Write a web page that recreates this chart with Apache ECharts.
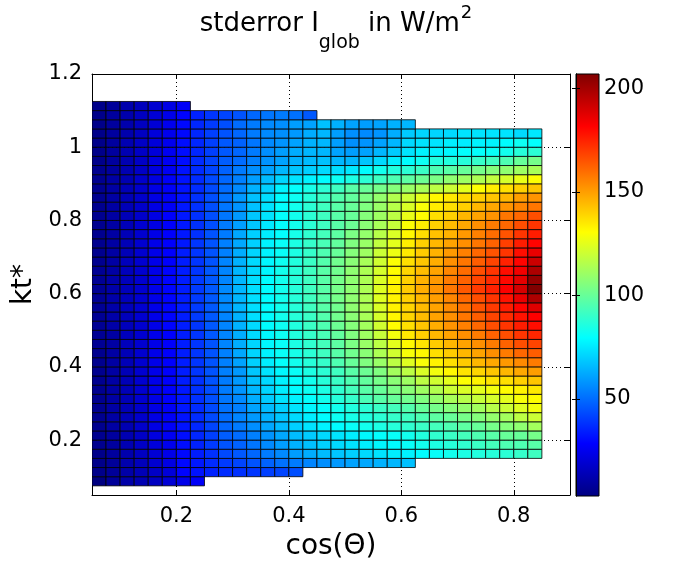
<!DOCTYPE html>
<html>
<head>
<meta charset="utf-8">
<script src="https://cdn.jsdelivr.net/npm/echarts@6/dist/echarts.min.js"></script>
<style>html,body{margin:0;padding:0;background:#fff}#c{width:675px;height:566px}</style>
</head>
<body>
<div id="c"></div>
<script>
// cell centres along x (cos(Theta)) and y (kt*)
const cosTheta = [0.0625,0.0875,0.1125,0.1375,0.1625,0.1875,0.2125,0.2375,0.2625,0.2875,0.3125,0.3375,0.3625,0.3875,0.4125,0.4375,0.4625,0.4875,0.5125,0.5375,0.5625,0.5875,0.6125,0.6375,0.6625,0.6875,0.7125,0.7375,0.7625,0.7875,0.8125,0.8375];
const ktCenters = [0.0875,0.1125,0.1375,0.1625,0.1875,0.2125,0.2375,0.2625,0.2875,0.3125,0.3375,0.3625,0.3875,0.4125,0.4375,0.4625,0.4875,0.5125,0.5375,0.5625,0.5875,0.6125,0.6375,0.6625,0.6875,0.7125,0.7375,0.7625,0.7875,0.8125,0.8375,0.8625,0.8875,0.9125,0.9375,0.9625,0.9875,1.0125,1.0375,1.0625,1.0875,1.1125];

// stderror values, one array per kt* row (r0 = lowest row); entries follow cosTheta, row ends where data ends
const r0  = [3,8,11,13,16,20,24,27];
const r1  = [5,8,11,14,17,21,29,32,35,37,38,39,41,42,44];
const r2  = [5,8,12,15,19,23,30,33,37,40,42,45,48,51,53,55,57,59,61,62,64,65,67];
const r3  = [5,9,12,16,20,24,30,34,38,43,46,49,53,56,60,63,66,68,70,72,74,76,77,79,81,83,85,86,87,88,90,92];
const r4  = [6,9,13,17,21,25,31,35,40,45,48,52,56,60,64,67,70,72,74,76,78,79,81,83,85,87,89,91,93,95,95,97];
const r5  = [6,9,13,17,22,26,31,36,41,47,50,54,58,62,66,69,72,74,76,78,80,81,83,86,89,91,93,95,97,100,100,103];
const r6  = [6,10,13,18,23,27,32,36,42,49,53,57,62,66,70,74,77,79,81,83,85,87,89,91,93,95,98,100,103,106,108,112];
const r7  = [6,10,14,18,23,27,32,37,43,50,55,59,64,68,72,76,79,82,84,86,88,90,92,95,98,100,103,106,109,112,117,120];
const r8  = [6,10,14,18,23,27,33,37,43,51,54,61,66,70,74,78,80,83,86,88,91,93,96,100,103,106,109,112,116,120,124,128];
const r9  = [6,10,14,19,23,28,33,38,44,52,56,63,69,74,77,80,83,87,90,94,97,100,102,105,109,113,116,119,122,125,129,131];
const r10 = [6,10,14,19,24,28,33,38,44,53,58,65,71,76,79,82,85,89,93,97,100,104,107,111,115,120,123,125,128,131,133,135];
const r11 = [6,10,14,19,24,28,34,38,45,53,59,67,72,77,80,83,87,91,95,99,103,107,111,117,121,125,130,133,136,137,140,142];
const r12 = [6,10,14,19,24,28,34,39,45,54,59,68,74,78,81,85,88,92,97,101,105,112,117,123,128,132,136,139,142,145,148,150];
const r13 = [6,10,14,19,24,28,34,39,45,54,61,70,76,80,83,87,90,95,100,105,110,117,124,129,133,137,141,145,148,151,154,157];
const r14 = [6,10,14,19,24,28,34,39,45,54,62,71,77,81,84,88,92,97,102,107,114,121,129,132,137,141,145,149,153,157,161,163];
const r15 = [7,10,15,19,24,28,34,39,45,55,63,71,78,81,85,89,93,98,104,110,117,125,132,136,141,145,149,153,157,162,166,168];
const r16 = [7,10,15,19,24,28,34,39,46,55,63,72,78,82,86,90,94,99,105,111,119,128,135,140,145,149,153,157,162,166,171,174];
const r17 = [7,11,15,19,24,29,34,39,46,55,64,72,79,82,86,91,95,101,106,112,121,131,137,142,147,152,156,161,166,171,176,179];
const r18 = [7,11,15,19,24,29,34,40,46,55,64,73,79,83,87,91,96,102,107,113,122,132,139,144,149,153,158,163,168,173,178,182];
const r19 = [7,11,15,19,24,29,34,40,46,56,65,73,79,83,87,92,97,102,108,114,123,133,139,144,149,154,159,165,170,176,181,188];
const r20 = [7,11,15,19,24,29,34,40,46,56,65,73,79,83,87,92,97,103,108,114,124,133,140,145,150,155,161,166,171,178,186,198];
const r21 = [7,11,15,19,24,29,34,40,46,56,65,73,79,83,87,92,97,103,108,114,124,133,141,147,152,158,164,170,175,182,190,207];
const r22 = [7,11,15,19,24,29,34,40,46,55,65,73,79,83,87,92,97,103,108,114,123,132,140,146,151,157,162,168,173,180,187,203];
const r23 = [7,10,15,19,24,29,34,39,46,55,65,72,78,83,87,92,97,102,108,114,122,131,139,144,149,155,160,166,171,179,184,198];
const r24 = [6,10,15,19,24,28,34,39,45,55,64,72,78,82,86,91,96,102,107,113,121,130,137,142,147,153,158,163,168,175,181,192];
const r25 = [6,10,14,19,24,28,34,39,45,54,63,71,77,81,85,90,95,100,106,111,120,127,135,141,146,151,156,161,165,171,179,186];
const r26 = [6,10,14,19,24,28,33,39,45,54,62,70,77,81,85,90,94,99,105,110,118,125,134,140,145,149,153,158,162,169,176,181];
const r27 = [6,10,14,19,24,28,33,38,45,53,62,70,76,80,84,89,93,98,104,109,116,123,132,137,143,146,151,156,160,165,171,176];
const r28 = [6,10,14,19,23,28,33,38,44,53,60,68,75,80,83,88,92,97,101,107,113,119,130,134,140,144,148,153,157,161,166,171];
const r29 = [6,10,14,18,23,28,33,38,44,52,59,68,74,80,83,88,92,97,100,106,111,117,126,131,137,140,145,149,152,158,161,166];
const r30 = [6,10,14,18,23,27,33,38,44,52,58,67,74,80,83,88,92,97,100,105,110,116,123,129,134,137,140,145,148,152,155,158];
const r31 = [6,10,14,18,23,27,32,38,44,51,59,67,73,79,82,87,91,96,99,104,109,115,120,125,132,135,138,140,142,145,150,152];
const r32 = [6,10,14,18,23,27,32,37,43,50,56,64,70,77,80,84,88,92,97,100,103,106,110,113,117,120,125,130,134,137,140,142];
const r33 = [6,10,13,18,22,27,32,37,43,49,54,60,66,71,74,77,79,82,85,88,92,95,98,101,104,108,111,114,118,122,126,130];
const r34 = [6,9,13,17,22,26,32,37,42,48,53,57,61,65,68,70,72,73,75,79,83,86,88,91,95,97,100,103,106,108,111,113];
const r35 = [5,9,13,17,22,26,31,37,42,47,50,54,58,61,64,66,67,65,65,68,72,76,79,82,86,86,87,90,92,95,100,103];
const r36 = [5,9,13,17,21,26,31,36,41,46,49,53,57,60,63,65,65,61,60,61,65,69,74,77,77,78,80,80,81,83,87,88];
const r37 = [5,9,13,17,21,25,31,36,41,46,48,52,56,58,61,64,65,60,57,58,61,65,72,74,74,76,76,77,77,79,82,80];
const r38 = [5,9,12,16,21,25,30,36,41,45,49,53,56,57,59,63,65,60,57,56,58,63,69,71,71,72,74,74,74,74,72,75];
const r39 = [5,9,12,16,20,25,30,36,40,44,50,53,56,57,60,61,67,64,61,60,61,64,65];
const r40 = [5,9,12,16,20,24,29,35,39,42,45,49,52,53,51,46];
const r41 = [5,8,12,15,19,23,27];

const rows = [r0,r1,r2,r3,r4,r5,r6,r7,r8,r9,r10,r11,r12,r13,r14,r15,r16,r17,r18,r19,r20,r21,r22,r23,r24,r25,r26,r27,r28,r29,r30,r31,r32,r33,r34,r35,r36,r37,r38,r39,r40,r41];

const xTicks = [0.2, 0.4, 0.6, 0.8];
const yTicks = [0.2, 0.4, 0.6, 0.8, 1, 1.2];
const cbTicks = [50, 100, 150, 200];
const cbMin = 3, cbMax = 207;
const jet = ['#000080','#0000ff','#0080ff','#00ffff','#80ff80','#ffff00','#ff8000','#ff0000','#800000'];

const cells = [];
rows.forEach((row, j) => row.forEach((v, i) => cells.push([cosTheta[i], ktCenters[j], v])));
const halfX = (cosTheta[1] - cosTheta[0]) / 2;
const halfY = (ktCenters[1] - ktCenters[0]) / 2;

const FONT = 'DejaVu Sans';
const black = '#000';
const tickLine = { color: black, width: 1 };

const chart = echarts.init(document.getElementById('c'));
chart.setOption({
  animation: false,
  backgroundColor: '#fff',
  title: {
    text: '{m|stderror I}{s|glob}{m| in W/m}{p|2}',
    left: 336, top: 0, padding: 0, textAlign: 'center',
    textStyle: {
      fontWeight: 'normal', fontFamily: FONT,
      rich: {
        m: { fontFamily: FONT, fontWeight: 'normal', fontSize: 26, color: black, lineHeight: 26, padding: [11, 0, 0, 0], verticalAlign: 'top' },
        s: { fontFamily: FONT, fontWeight: 'normal', fontSize: 19, color: black, lineHeight: 19, padding: [34, 0, 0, 0], verticalAlign: 'top' },
        p: { fontFamily: FONT, fontWeight: 'normal', fontSize: 18, color: black, lineHeight: 18, padding: [4, 0, 0, 1], verticalAlign: 'top' }
      }
    }
  },
  visualMap: {
    show: false, type: 'continuous', seriesIndex: 0, dimension: 2,
    min: cbMin, max: cbMax, inRange: { color: jet }
  },
  grid: [
    { left: 92, top: 74, width: 478, height: 422 },
    { left: 576, top: 74, width: 23, height: 422 }
  ],
  xAxis: [
    {
      gridIndex: 0, type: 'value', min: 0.05, max: 0.9, position: 'bottom',
      axisLine: { show: true, onZero: false, lineStyle: tickLine },
      axisTick: { show: true, inside: true, length: 5, customValues: xTicks, lineStyle: tickLine },
      axisLabel: { show: true, customValues: xTicks, fontFamily: FONT, fontSize: 21, color: black, margin: 11 },
      splitLine: { show: true, lineStyle: { type: [1, 3], color: black, width: 1 } },
      name: 'cos(Θ)', nameLocation: 'middle', nameGap: 38,
      nameTextStyle: { fontFamily: FONT, fontSize: 28, color: black }
    },
    {
      gridIndex: 0, type: 'value', min: 0.05, max: 0.9, position: 'top',
      axisLine: { show: true, onZero: false, lineStyle: tickLine },
      axisTick: { show: true, inside: true, length: 5, customValues: xTicks, lineStyle: tickLine },
      axisLabel: { show: false }, splitLine: { show: false }
    },
    { gridIndex: 1, type: 'value', min: 0, max: 1, show: false }
  ],
  yAxis: [
    {
      gridIndex: 0, type: 'value', min: 0.05, max: 1.2, position: 'left',
      axisLine: { show: true, onZero: false, lineStyle: tickLine },
      axisTick: { show: true, inside: true, length: 5, customValues: yTicks, lineStyle: tickLine },
      axisLabel: { show: true, customValues: yTicks, fontFamily: FONT, fontSize: 21, color: black, margin: 10 },
      splitLine: { show: true, lineStyle: { type: [1, 3], color: black, width: 1 } },
      name: 'kt*', nameLocation: 'middle', nameGap: 46, nameRotate: 90,
      nameTextStyle: { fontFamily: FONT, fontSize: 28, color: black }
    },
    {
      gridIndex: 0, type: 'value', min: 0.05, max: 1.2, position: 'right',
      axisLine: { show: true, onZero: false, lineStyle: tickLine },
      axisTick: { show: true, inside: true, length: 5, customValues: yTicks, lineStyle: tickLine },
      axisLabel: { show: false }, splitLine: { show: false }
    },
    {
      gridIndex: 1, type: 'value', min: cbMin, max: cbMax, position: 'right', z: 5,
      axisLine: { show: true, lineStyle: tickLine },
      axisTick: { show: true, inside: true, length: 4, customValues: cbTicks, lineStyle: tickLine },
      axisLabel: { show: true, customValues: cbTicks, fontFamily: FONT, fontSize: 21, color: black, margin: 5 },
      splitLine: { show: false }
    },
    {
      gridIndex: 1, type: 'value', min: cbMin, max: cbMax, position: 'left', z: 5,
      axisLine: { show: true, lineStyle: tickLine },
      axisTick: { show: true, inside: true, length: 4, customValues: cbTicks, lineStyle: tickLine },
      axisLabel: { show: false }, splitLine: { show: false }
    }
  ],
  series: [
    {
      type: 'custom', xAxisIndex: 0, yAxisIndex: 0, data: cells, encode: { x: 0, y: 1 }, clip: true,
      renderItem: function (params, api) {
        const x = api.value(0), y = api.value(1);
        const p0 = api.coord([x - halfX, y + halfY]);
        const p1 = api.coord([x + halfX, y - halfY]);
        return {
          type: 'rect',
          shape: { x: p0[0], y: p0[1], width: p1[0] - p0[0], height: p1[1] - p0[1] },
          style: { fill: api.visual('color'), stroke: 'rgba(0,0,0,0.8)', lineWidth: 1 }
        };
      }
    },
    {
      type: 'custom', xAxisIndex: 2, yAxisIndex: 2, data: [[0, cbMin, 1, cbMax]],
      encode: { x: [0, 2], y: [1, 3] },
      renderItem: function (params, api) {
        const p0 = api.coord([api.value(0), api.value(3)]);
        const p1 = api.coord([api.value(2), api.value(1)]);
        return {
          type: 'rect',
          shape: { x: p0[0], y: p0[1], width: p1[0] - p0[0], height: p1[1] - p0[1] },
          style: {
            fill: new echarts.graphic.LinearGradient(0, 1, 0, 0,
              jet.map((c, i) => ({ offset: i / (jet.length - 1), color: c }))),
            stroke: black, lineWidth: 1
          }
        };
      }
    }
  ]
});
</script>
</body>
</html>
